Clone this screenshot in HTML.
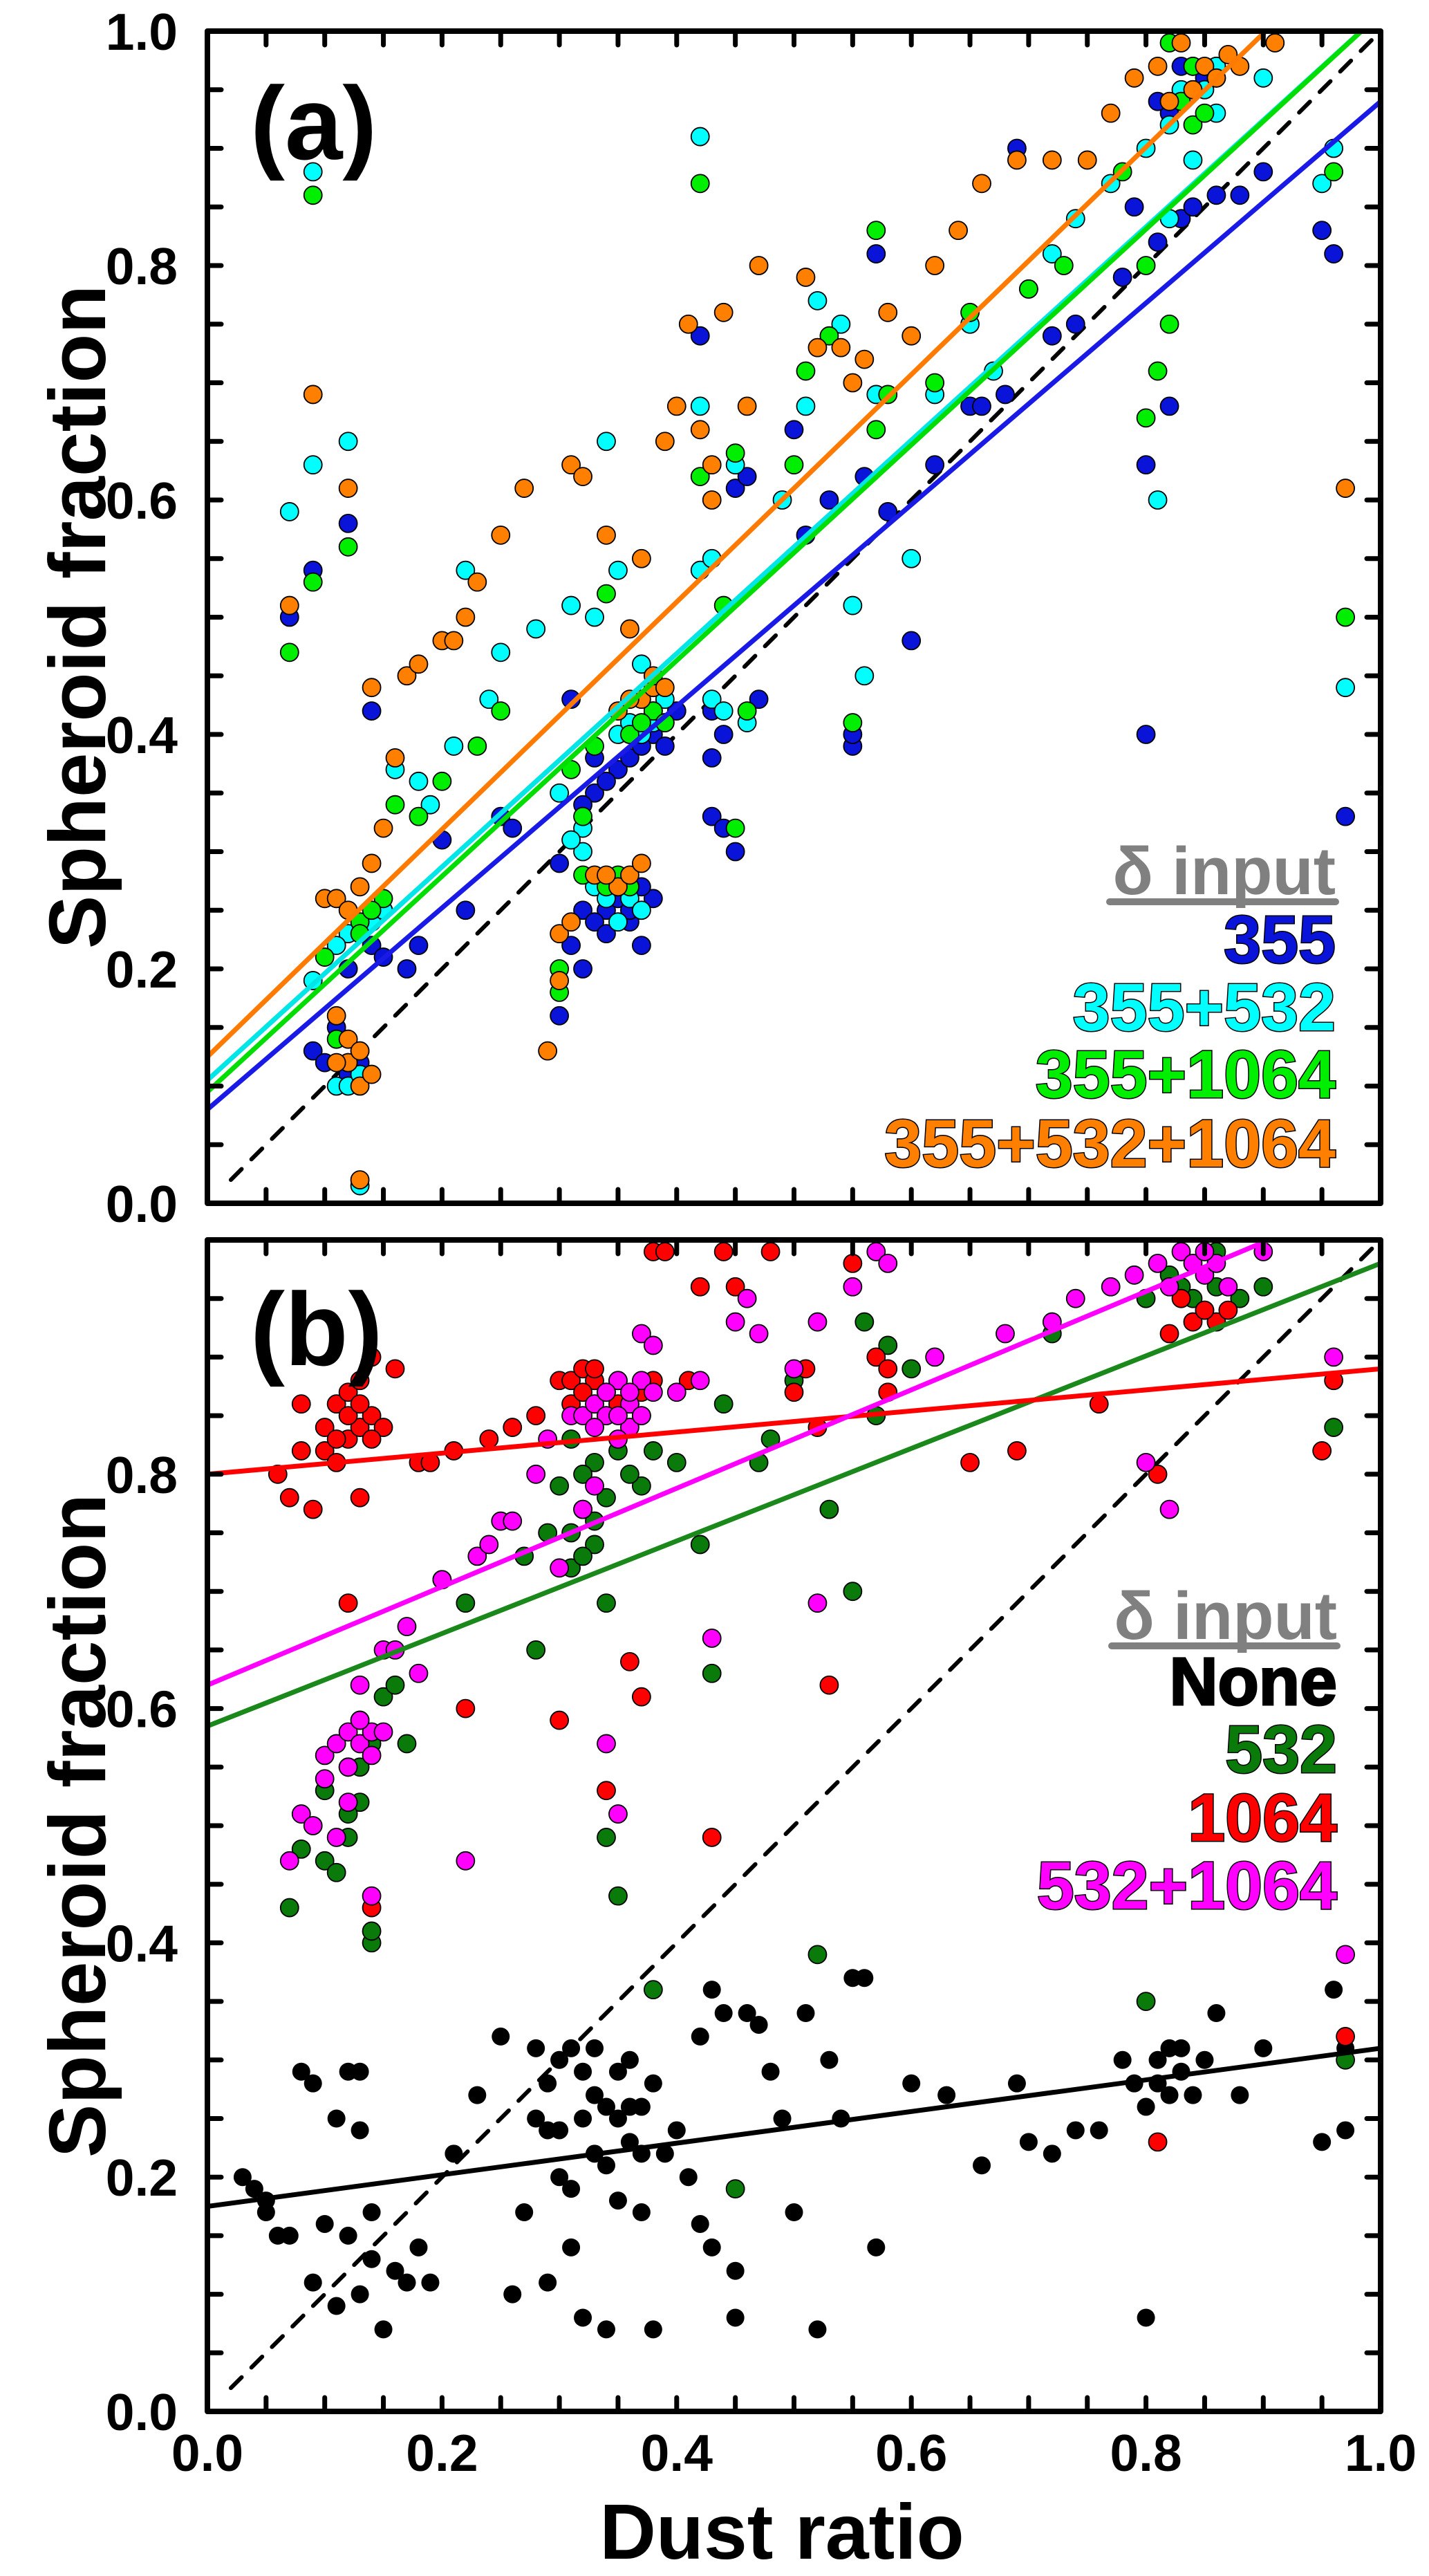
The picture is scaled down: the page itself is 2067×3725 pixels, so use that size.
<!DOCTYPE html>
<html><head><meta charset="utf-8"><style>
html,body{margin:0;padding:0;background:#fff}
svg{display:block}
text{font-family:"Liberation Sans",Arial,sans-serif;font-weight:bold}
</style></head><body>
<svg id="chart" width="2067" height="3725" viewBox="0 0 2067 3725" xmlns="http://www.w3.org/2000/svg">
<defs>
<clipPath id="clipA"><rect x="300" y="45" width="1697" height="1695"/></clipPath>
<clipPath id="clipB"><rect x="300" y="1793" width="1697" height="1694"/></clipPath>
</defs>
<g id="panelA"></g>
<g id="panelB"></g>
<text x="362" y="230" font-size="150">(a)</text>
<text x="362" y="1974" font-size="150">(b)</text>
<text transform="translate(152,892) rotate(-90)" text-anchor="middle" font-size="116">Spheroid fraction</text>
<text transform="translate(152,2640) rotate(-90)" text-anchor="middle" font-size="116">Spheroid fraction</text>
<text x="1131" y="3700" text-anchor="middle" font-size="113">Dust ratio</text>
<g font-size="97" text-anchor="end" stroke="#000" stroke-width="3" paint-order="stroke">
<text x="1932" y="1293" fill="#808080" stroke="none">δ input</text>
<text x="1932" y="1392" fill="#0a14d8">355</text>
<text x="1932" y="1490" fill="#00ffff">355+532</text>
<text x="1932" y="1587" fill="#00ee00">355+1064</text>
<text x="1932" y="1687" fill="#ff8000">355+532+1064</text>
</g>
<line x1="1605" y1="1304" x2="1932" y2="1304" stroke="#808080" stroke-width="10" stroke-linecap="round"/>
<g font-size="97" text-anchor="end" stroke="#000" stroke-width="3" paint-order="stroke">
<text x="1934" y="2370" fill="#808080" stroke="none">δ input</text>
<text x="1934" y="2465" fill="#000">None</text>
<text x="1934" y="2563" fill="#0a7a0a">532</text>
<text x="1934" y="2662" fill="#ff0000">1064</text>
<text x="1934" y="2760" fill="#ff00ff">532+1064</text>
</g>
<line x1="1608" y1="2380" x2="1934" y2="2380" stroke="#808080" stroke-width="10" stroke-linecap="round"/>
</svg>
<script>
// ---- data ----
const xTicks = [0.0, 0.2, 0.4, 0.6, 0.8, 1.0];
const xTickLabels = ["0.0","0.2","0.4","0.6","0.8","1.0"];
const yTicks = [0.0, 0.2, 0.4, 0.6, 0.8, 1.0];
const yTickLabelsA = ["0.0","0.2","0.4","0.6","0.8","1.0"];
const yTickLabelsB = ["0.0","0.2","0.4","0.6","0.8",""];

const a355 = [[0.07,0.50],[0.09,0.54],[0.09,0.13],[0.1,0.12],[0.12,0.58],[0.12,0.20],[0.13,0.13],[0.14,0.42],[0.14,0.22],[0.15,0.21],[0.17,0.20],[0.18,0.22],[0.2,0.31],[0.22,0.25],[0.25,0.33],[0.26,0.32],[0.3,0.29],[0.3,0.16],[0.31,0.43],[0.32,0.20],[0.32,0.25],[0.33,0.35],[0.34,0.25],[0.35,0.37],[0.36,0.38],[0.37,0.22],[0.38,0.40],[0.38,0.26],[0.39,0.41],[0.4,0.42],[0.42,0.74],[0.43,0.38],[0.43,0.33],[0.44,0.32],[0.45,0.30],[0.45,0.61],[0.46,0.62],[0.47,0.43],[0.5,0.66],[0.51,0.57],[0.53,0.60],[0.55,0.39],[0.55,0.40],[0.56,0.62],[0.57,0.81],[0.58,0.59],[0.6,0.48],[0.62,0.63],[0.65,0.68],[0.66,0.68],[0.68,0.69],[0.69,0.90],[0.72,0.74],[0.74,0.75],[0.78,0.79],[0.79,0.85],[0.80,0.63],[0.80,0.40],[0.81,0.82],[0.82,0.68],[0.83,0.84],[0.84,0.85],[0.86,0.86],[0.88,0.86],[0.9,0.88],[0.95,0.83],[0.96,0.81],[0.97,0.33],[0.82,0.93],[0.84,0.95],[0.86,0.97],[0.11,0.15],[0.12,0.11],[0.13,0.12],[0.33,0.24],[0.34,0.23],[0.35,0.26],[0.36,0.24],[0.36,0.25],[0.37,0.27],[0.31,0.22],[0.33,0.38],[0.34,0.36],[0.37,0.39],[0.39,0.39],[0.32,0.34],[0.83,0.97],[0.85,0.96],[0.81,0.94],[0.44,0.40],[0.43,0.42]];
const a355_532 = [[0.07,0.59],[0.09,0.88],[0.09,0.63],[0.09,0.19],[0.11,0.10],[0.12,0.65],[0.12,0.23],[0.13,0.015],[0.14,0.24],[0.15,0.25],[0.16,0.37],[0.18,0.36],[0.19,0.34],[0.21,0.39],[0.22,0.54],[0.24,0.43],[0.25,0.47],[0.28,0.49],[0.3,0.35],[0.31,0.51],[0.32,0.30],[0.33,0.50],[0.34,0.65],[0.35,0.54],[0.36,0.27],[0.37,0.46],[0.37,0.40],[0.38,0.41],[0.42,0.91],[0.42,0.68],[0.42,0.54],[0.43,0.43],[0.45,0.63],[0.46,0.41],[0.49,0.60],[0.51,0.68],[0.52,0.77],[0.54,0.75],[0.55,0.51],[0.56,0.45],[0.57,0.69],[0.6,0.55],[0.62,0.69],[0.65,0.75],[0.67,0.71],[0.7,0.78],[0.72,0.81],[0.74,0.84],[0.77,0.87],[0.8,0.90],[0.81,0.60],[0.82,0.84],[0.84,0.89],[0.86,0.93],[0.9,0.96],[0.95,0.87],[0.96,0.90],[0.97,0.44],[0.84,0.97],[0.83,0.95],[0.12,0.10],[0.13,0.11],[0.11,0.22],[0.32,0.32],[0.33,0.27],[0.34,0.26],[0.35,0.24],[0.36,0.26],[0.37,0.25],[0.31,0.31],[0.35,0.40],[0.36,0.41],[0.38,0.42],[0.39,0.43],[0.44,0.42],[0.43,0.55],[0.85,0.95],[0.86,0.97],[0.82,0.92]];
const a355_1064 = [[0.07,0.47],[0.09,0.86],[0.09,0.53],[0.10,0.21],[0.11,0.14],[0.12,0.56],[0.13,0.24],[0.15,0.26],[0.16,0.34],[0.18,0.33],[0.2,0.36],[0.23,0.39],[0.25,0.42],[0.3,0.18],[0.31,0.37],[0.32,0.33],[0.33,0.39],[0.34,0.52],[0.36,0.40],[0.38,0.42],[0.42,0.87],[0.42,0.62],[0.44,0.51],[0.45,0.32],[0.45,0.64],[0.46,0.42],[0.50,0.63],[0.51,0.71],[0.53,0.74],[0.55,0.41],[0.57,0.83],[0.57,0.66],[0.58,0.69],[0.62,0.70],[0.65,0.76],[0.7,0.78],[0.73,0.80],[0.78,0.88],[0.8,0.67],[0.81,0.71],[0.82,0.75],[0.82,0.99],[0.84,0.92],[0.86,0.96],[0.97,0.50],[0.96,0.88],[0.8,0.8],[0.12,0.12],[0.13,0.23],[0.14,0.25],[0.32,0.28],[0.34,0.27],[0.35,0.28],[0.36,0.27],[0.37,0.41],[0.39,0.41],[0.3,0.20],[0.83,0.94],[0.85,0.93],[0.84,0.97]];
const a355_532_1064 = [[0.07,0.51],[0.09,0.69],[0.10,0.26],[0.11,0.16],[0.11,0.26],[0.12,0.61],[0.12,0.12],[0.13,0.27],[0.13,0.10],[0.14,0.44],[0.14,0.29],[0.15,0.32],[0.16,0.38],[0.17,0.45],[0.18,0.46],[0.2,0.48],[0.21,0.48],[0.22,0.50],[0.23,0.53],[0.25,0.57],[0.27,0.61],[0.29,0.13],[0.3,0.23],[0.31,0.63],[0.32,0.62],[0.33,0.28],[0.34,0.57],[0.35,0.27],[0.36,0.49],[0.37,0.43],[0.37,0.55],[0.38,0.44],[0.39,0.65],[0.40,0.68],[0.41,0.75],[0.42,0.66],[0.43,0.60],[0.44,0.76],[0.46,0.68],[0.47,0.80],[0.51,0.79],[0.52,0.73],[0.54,0.73],[0.55,0.70],[0.56,0.72],[0.58,0.76],[0.6,0.74],[0.62,0.80],[0.64,0.83],[0.66,0.87],[0.69,0.89],[0.72,0.89],[0.75,0.89],[0.77,0.93],[0.79,0.96],[0.81,0.97],[0.83,0.99],[0.85,0.97],[0.88,0.97],[0.91,0.99],[0.97,0.61],[0.13,0.02],[0.12,0.14],[0.11,0.12],[0.13,0.13],[0.14,0.11],[0.12,0.25],[0.3,0.19],[0.31,0.24],[0.34,0.28],[0.36,0.28],[0.37,0.29],[0.35,0.42],[0.36,0.43],[0.38,0.45],[0.39,0.44],[0.43,0.63],[0.84,0.95],[0.86,0.96],[0.82,0.94],[0.87,0.98]];

const bNone = [[0.03,0.20],[0.04,0.19],[0.05,0.17],[0.05,0.18],[0.06,0.15],[0.07,0.15],[0.08,0.29],[0.09,0.28],[0.09,0.11],[0.1,0.16],[0.11,0.25],[0.11,0.09],[0.12,0.29],[0.12,0.15],[0.13,0.29],[0.13,0.24],[0.13,0.10],[0.14,0.17],[0.14,0.13],[0.15,0.07],[0.16,0.12],[0.17,0.11],[0.18,0.14],[0.19,0.11],[0.21,0.22],[0.23,0.27],[0.25,0.32],[0.26,0.10],[0.27,0.17],[0.28,0.25],[0.28,0.31],[0.29,0.24],[0.29,0.11],[0.3,0.24],[0.3,0.20],[0.3,0.30],[0.31,0.31],[0.31,0.19],[0.31,0.14],[0.32,0.29],[0.32,0.08],[0.33,0.27],[0.33,0.22],[0.34,0.21],[0.34,0.07],[0.35,0.25],[0.35,0.18],[0.36,0.26],[0.36,0.30],[0.37,0.22],[0.37,0.17],[0.38,0.07],[0.38,0.28],[0.39,0.22],[0.4,0.24],[0.41,0.20],[0.42,0.32],[0.42,0.16],[0.43,0.36],[0.43,0.14],[0.44,0.34],[0.45,0.12],[0.45,0.08],[0.46,0.34],[0.47,0.33],[0.48,0.29],[0.49,0.25],[0.5,0.17],[0.51,0.34],[0.52,0.07],[0.53,0.30],[0.54,0.25],[0.55,0.37],[0.56,0.37],[0.57,0.14],[0.6,0.28],[0.63,0.27],[0.66,0.21],[0.69,0.28],[0.7,0.23],[0.72,0.22],[0.74,0.24],[0.76,0.24],[0.78,0.30],[0.79,0.28],[0.8,0.08],[0.8,0.26],[0.81,0.28],[0.82,0.31],[0.83,0.29],[0.84,0.27],[0.85,0.30],[0.86,0.34],[0.88,0.27],[0.9,0.31],[0.95,0.23],[0.96,0.36],[0.97,0.24],[0.97,0.31],[0.33,0.31],[0.34,0.26],[0.35,0.29],[0.36,0.23],[0.37,0.26],[0.32,0.25],[0.29,0.28],[0.81,0.30],[0.83,0.31],[0.82,0.27]];
const b532 = [[0.07,0.43],[0.08,0.48],[0.1,0.47],[0.1,0.53],[0.11,0.46],[0.12,0.49],[0.12,0.55],[0.13,0.52],[0.13,0.59],[0.14,0.40],[0.14,0.41],[0.15,0.61],[0.16,0.62],[0.17,0.57],[0.2,0.71],[0.22,0.69],[0.27,0.73],[0.28,0.65],[0.29,0.75],[0.3,0.79],[0.31,0.72],[0.31,0.83],[0.32,0.77],[0.33,0.74],[0.33,0.81],[0.34,0.69],[0.34,0.49],[0.35,0.44],[0.37,0.79],[0.37,0.85],[0.38,0.36],[0.38,0.82],[0.4,0.81],[0.42,0.74],[0.43,0.63],[0.44,0.86],[0.45,0.19],[0.47,0.81],[0.48,0.83],[0.5,0.88],[0.52,0.39],[0.53,0.77],[0.55,0.70],[0.56,0.93],[0.57,0.85],[0.58,0.91],[0.6,0.89],[0.72,0.92],[0.8,0.35],[0.8,0.95],[0.82,0.97],[0.84,0.95],[0.86,0.96],[0.88,0.95],[0.9,0.96],[0.96,0.84],[0.97,0.30],[0.86,0.99],[0.12,0.51],[0.13,0.55],[0.14,0.57],[0.32,0.73],[0.32,0.80],[0.33,0.76],[0.34,0.78],[0.35,0.82],[0.36,0.80],[0.31,0.75],[0.83,0.96],[0.85,0.94]];
const b1064 = [[0.06,0.80],[0.07,0.78],[0.08,0.82],[0.08,0.86],[0.09,0.77],[0.1,0.82],[0.1,0.84],[0.11,0.81],[0.11,0.86],[0.12,0.83],[0.12,0.87],[0.13,0.84],[0.13,0.88],[0.14,0.90],[0.14,0.85],[0.15,0.84],[0.16,0.89],[0.13,0.78],[0.12,0.69],[0.14,0.43],[0.18,0.81],[0.19,0.81],[0.21,0.82],[0.22,0.60],[0.24,0.83],[0.26,0.84],[0.28,0.85],[0.3,0.88],[0.31,0.88],[0.32,0.89],[0.33,0.88],[0.34,0.87],[0.35,0.88],[0.36,0.86],[0.38,0.88],[0.38,0.99],[0.39,0.99],[0.41,0.88],[0.42,0.96],[0.43,0.49],[0.44,0.99],[0.45,0.96],[0.48,0.99],[0.5,0.87],[0.51,0.89],[0.52,0.84],[0.53,0.62],[0.55,0.98],[0.57,0.90],[0.58,0.87],[0.58,0.89],[0.65,0.81],[0.69,0.82],[0.76,0.86],[0.81,0.80],[0.82,0.92],[0.84,0.93],[0.86,0.93],[0.87,0.94],[0.95,0.82],[0.96,0.88],[0.97,0.32],[0.81,0.23],[0.3,0.59],[0.34,0.53],[0.36,0.64],[0.37,0.61],[0.11,0.83],[0.12,0.85],[0.13,0.86],[0.14,0.83],[0.31,0.86],[0.32,0.87],[0.33,0.89],[0.34,0.85],[0.35,0.86],[0.37,0.87],[0.85,0.94],[0.83,0.95]];
const b532_1064 = [[0.07,0.47],[0.08,0.51],[0.09,0.50],[0.1,0.54],[0.1,0.56],[0.11,0.57],[0.11,0.49],[0.12,0.52],[0.12,0.58],[0.13,0.57],[0.13,0.62],[0.14,0.58],[0.14,0.44],[0.15,0.65],[0.15,0.58],[0.16,0.65],[0.17,0.67],[0.18,0.63],[0.2,0.71],[0.22,0.47],[0.23,0.73],[0.24,0.74],[0.25,0.76],[0.26,0.76],[0.28,0.80],[0.29,0.83],[0.3,0.72],[0.31,0.85],[0.32,0.77],[0.32,0.85],[0.33,0.86],[0.33,0.79],[0.34,0.85],[0.34,0.57],[0.35,0.88],[0.35,0.51],[0.36,0.86],[0.36,0.84],[0.37,0.88],[0.37,0.92],[0.38,0.91],[0.4,0.87],[0.42,0.88],[0.43,0.66],[0.45,0.93],[0.46,0.95],[0.47,0.92],[0.5,0.89],[0.52,0.69],[0.52,0.93],[0.55,0.96],[0.57,0.99],[0.58,0.98],[0.62,0.90],[0.68,0.92],[0.72,0.93],[0.74,0.95],[0.77,0.96],[0.8,0.81],[0.82,0.77],[0.81,0.98],[0.83,0.99],[0.85,0.97],[0.86,0.98],[0.9,0.99],[0.97,0.39],[0.96,0.90],[0.79,0.97],[0.12,0.55],[0.13,0.59],[0.14,0.56],[0.33,0.84],[0.34,0.87],[0.35,0.85],[0.36,0.87],[0.37,0.85],[0.38,0.87],[0.35,0.83],[0.82,0.96],[0.84,0.98],[0.87,0.96],[0.85,0.99]];

// fit lines: [intercept, slope]
const fitA = [[0.08,0.86],[0.105,0.91],[0.095,0.92],[0.125,0.97]];
const fitB = [[0.175,0.135],[0.585,0.395],[0.80,0.09],[0.62,0.42]];

// ---- drawing ----
const NS = "http://www.w3.org/2000/svg";
const X0 = 300, X1 = 1997;
function xs(v){ return X0 + v*(X1-X0); }
function mkY(top,bot){ return v => bot - v*(bot-top); }
const yA = mkY(45,1740), yB = mkY(1793,3487);
function el(tag, attrs, parent){ const e=document.createElementNS(NS,tag); for(const k in attrs) e.setAttribute(k,attrs[k]); parent.appendChild(e); return e; }

function drawPanel(g, ys, top, bot, clipId, series, fits, tickLabels, showX){
  const data = el('g',{'clip-path':'url(#'+clipId+')'},g);
  const d = el('line',{x1:xs(0.02),y1:ys(0.02),x2:xs(1),y2:ys(1),stroke:'#000','stroke-width':6,'stroke-dasharray':'22,20','stroke-linecap':'round'},data);
  
  
  series.forEach((s,i)=>{
    const sg = el('g',{},data);
    
    
    s.pts.forEach(p=>{
      const c = el('circle',{cx:xs(p[0]),cy:ys(p[1]),r:13,fill:s.color,stroke:'#000','stroke-width':s.color==='#000'?0:1.8},sg);
      
      
    });
  });
  fits.forEach((f,i)=>{
    const l = el('line',{x1:xs(0),y1:ys(f[0]),x2:xs(1.05),y2:ys(f[0]+1.05*f[1]),stroke:series[i].line,'stroke-width':7},data);
    
    
  });
  const fr = el('rect',{x:X0,y:top,width:X1-X0,height:bot-top,fill:'none',stroke:'#000','stroke-width':8,'stroke-linejoin':'round'},g);
  
  
  for(let i=1;i<20;i++){
    const v=i*0.05;
    el('line',{x1:xs(v),y1:bot,x2:xs(v),y2:bot-20,stroke:'#000','stroke-width':7,'stroke-linecap':'round'},g);
    el('line',{x1:xs(v),y1:top,x2:xs(v),y2:top+20,stroke:'#000','stroke-width':7,'stroke-linecap':'round'},g);
    el('line',{x1:X0,y1:ys(v),x2:X0+20,y2:ys(v),stroke:'#000','stroke-width':7,'stroke-linecap':'round'},g);
    el('line',{x1:X1,y1:ys(v),x2:X1-20,y2:ys(v),stroke:'#000','stroke-width':7,'stroke-linecap':'round'},g);
  }
  yTicks.forEach((v,i)=>{
    const t = el('text',{x:257,y:ys(v)+27,'text-anchor':'end','font-size':75},g);
    t.textContent = tickLabels[i];
    
    
  });
  if(showX){
    xTicks.forEach((v,i)=>{
      const t = el('text',{x:xs(v),y:3573,'text-anchor':'middle','font-size':75},g);
      t.textContent = xTickLabels[i];
      
      
    });
  }
}

drawPanel(document.getElementById('panelA'), yA, 45, 1740, 'clipA', [
  {name:'series-355', pts:a355, color:'#0a14d8', line:'#1a1ae6'},
  {name:'series-355-532', pts:a355_532, color:'#00ffff', line:'#00e5e5'},
  {name:'series-355-1064', pts:a355_1064, color:'#00ee00', line:'#00dd00'},
  {name:'series-355-532-1064', pts:a355_532_1064, color:'#ff8000', line:'#ff7a00'}
], fitA, yTickLabelsA, false);

drawPanel(document.getElementById('panelB'), yB, 1793, 3487, 'clipB', [
  {name:'series-none', pts:bNone, color:'#000', line:'#000'},
  {name:'series-532', pts:b532, color:'#0a7a0a', line:'#1a881a'},
  {name:'series-1064', pts:b1064, color:'#ff0000', line:'#ff0000'},
  {name:'series-532-1064', pts:b532_1064, color:'#ff00ff', line:'#ff00ff'}
], fitB, yTickLabelsB, true);
</script>
</body></html>
